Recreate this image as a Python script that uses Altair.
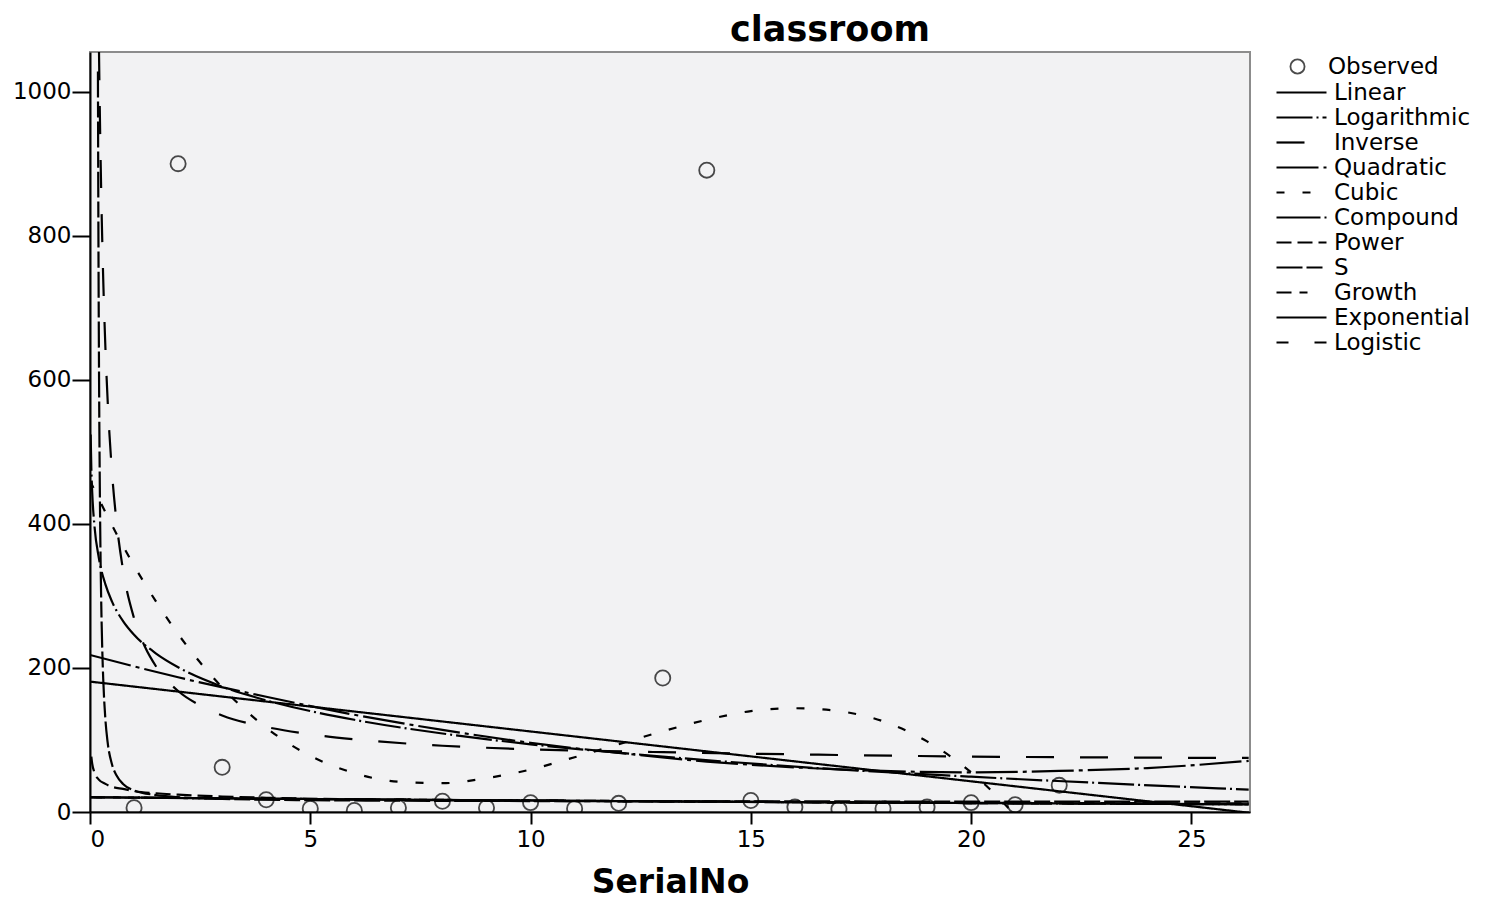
import altair as alt
import pandas as pd

# observed cases
obs_x = list(range(1, 23))
obs_y = [6, 900, 62, 17, 5, 2, 6, 15, 6, 13, 5, 12, 186, 891, 16, 7, 4, 5, 7, 13, 10, 37]

# fitted curves
linear_x = [0, 26.3]
linear_y = [181, -1]

log_x = [0.015, 0.03, 0.05, 0.1, 0.2, 0.35, 0.5, 0.75, 1, 1.5, 2, 3, 4, 6, 8, 10, 13, 16, 20, 23, 26.3]
log_y = [524, 478, 444, 398, 353, 316, 292, 265, 246, 220, 201, 174, 155, 128, 109, 94, 77, 63, 49, 40, 31]

inv_x = [0.19, 0.2, 0.22, 0.25, 0.3, 0.35, 0.4, 0.5, 0.6, 0.75, 1, 1.25, 1.5, 2, 2.5, 3, 4, 5, 6, 8, 10, 13, 16, 20, 26.3]
inv_y = [1130, 1077, 985, 875, 740, 644, 572, 471, 404, 336, 269, 229, 202, 168, 148, 134, 118, 108, 101, 92, 87, 83, 80, 77, 75]

quad_x = [0, 2, 4, 6, 8, 10, 12, 14, 16, 18, 20, 22, 24, 26.3]
quad_y = [218, 187, 160, 135, 114, 96, 82, 70, 62, 57, 55, 57, 61, 71]

cubic_x = [0, 0.5, 1, 1.5, 2, 3, 4, 5, 6, 7, 8, 9, 10, 11, 12, 13, 14, 15, 16, 17, 18, 19, 20, 21, 22]
cubic_y = [460, 398, 342, 292, 247, 173, 117, 78, 54, 42, 40, 47, 59, 76, 94, 112, 128, 140, 144, 140, 126, 98, 55, -5, -84]

flat_x = [0, 5, 10, 15, 20, 26.3]
flat_y = [20.5, 18, 16, 14.1, 12.4, 10.7]

power_x = [0.03, 0.05, 0.1, 0.2, 0.35, 0.5, 0.75, 1, 1.5, 2, 3, 4, 6, 8, 10, 13, 16, 20, 26.3]
power_y = [77, 67, 55, 45, 39, 35, 32, 29, 26, 24, 21.5, 19.8, 17.6, 16.3, 15.5, 14.4, 13.6, 12.8, 11.9]

s_x = [0.18, 0.19, 0.2, 0.21, 0.22, 0.24, 0.26, 0.28, 0.3, 0.35, 0.4, 0.5, 0.6, 0.75, 1, 1.5, 2, 3, 5, 8, 12, 18, 26.3]
s_y = [1028, 820, 669, 556, 471, 351, 274, 222, 185, 128, 97, 66, 51, 39, 30, 23.5, 20.7, 18.2, 16.4, 15.5, 15, 14.6, 14.4]

models = ["Linear", "Logarithmic", "Inverse", "Quadratic", "Cubic", "Compound",
          "Power", "S", "Growth", "Exponential", "Logistic"]
dashes = [[1, 0], [36, 4, 2, 4], [28, 26], [42, 5, 4, 5], [8, 18], [44, 4, 2, 4],
          [15, 6], [26, 4, 16, 4], [15, 8, 8, 20], [1, 0], [12, 26]]

curve_pts = {
    "Linear": (linear_x, linear_y),
    "Logarithmic": (log_x, log_y),
    "Inverse": (inv_x, inv_y),
    "Quadratic": (quad_x, quad_y),
    "Cubic": (cubic_x, cubic_y),
    "Compound": (flat_x, flat_y),
    "Power": (power_x, power_y),
    "S": (s_x, s_y),
    "Growth": (flat_x, flat_y),
    "Exponential": (flat_x, flat_y),
    "Logistic": (flat_x, flat_y),
}

rows = []
for m in models:
    xs, ys = curve_pts[m]
    for a, b in zip(xs, ys):
        rows.append({"model": m, "x": a, "y": b})
curves = pd.DataFrame(rows)
obs = pd.DataFrame({"x": obs_x, "y": obs_y, "series": "Observed"})

font = "DejaVu Sans"

x_enc = alt.X("x:Q", scale=alt.Scale(domain=[0, 26.33], nice=False, zero=False),
              axis=alt.Axis(values=[0, 5, 10, 15, 20, 25], title="SerialNo", tickSize=12,
                            labelPadding=4, titlePadding=15))
y_enc = alt.Y("y:Q", scale=alt.Scale(domain=[0, 1055], nice=False),
              axis=alt.Axis(values=[0, 200, 400, 600, 800, 1000], title=None, tickSize=18,
                            labelPadding=1, format="d"))

points = alt.Chart(obs).mark_point(filled=False, color="black", size=230, strokeWidth=1.8,
                                   clip=True).encode(
    x=x_enc, y=y_enc,
    shape=alt.Shape("series:N", scale=alt.Scale(domain=["Observed"], range=["circle"]),
                    legend=alt.Legend(title=None, orient="none", legendX=1196, legendY=3,
                                      symbolSize=200, symbolStrokeColor="black",
                                      symbolStrokeWidth=1.8, labelOffset=19,
                                      labelFontSize=23, labelFont=font, padding=0)),
)

lines = alt.Chart(curves).mark_line(color="black", strokeWidth=2.2, clip=True,
                                    interpolate="monotone").encode(
    x=x_enc, y=y_enc,
    strokeDash=alt.StrokeDash("model:N", scale=alt.Scale(domain=models, range=dashes),
                              legend=alt.Legend(title=None, orient="none", legendX=1185,
                                                legendY=28, symbolType="stroke",
                                                symbolSize=2500, symbolStrokeColor="black",
                                                symbolStrokeWidth=2.2, labelOffset=6,
                                                labelFontSize=23, labelFont=font,
                                                clipHeight=25, rowPadding=0, padding=0)),
)

chart = (points + lines).properties(
    width=1160, height=760,
    autosize=alt.AutoSizeParams(type="none"),
    padding={"left": 82, "top": 44, "right": 240, "bottom": 92},
    title=alt.TitleParams("classroom", font=font, fontSize=35, fontWeight="bold",
                          anchor="middle", dx=160, offset=4, color="black"),
).configure_view(
    stroke="#8c8c8c", strokeWidth=2, fill="#f2f2f3"
).configure_axis(
    grid=False, domainColor="black", domainWidth=2, tickColor="black", tickWidth=2,
    labelColor="black", labelFont=font, labelFontSize=23,
    titleFont=font, titleFontSize=33, titleFontWeight="bold", titleColor="black"
).configure_legend(
    labelColor="black"
)

chart.save("out.html", embed_options={"renderer": "svg", "actions": False})
